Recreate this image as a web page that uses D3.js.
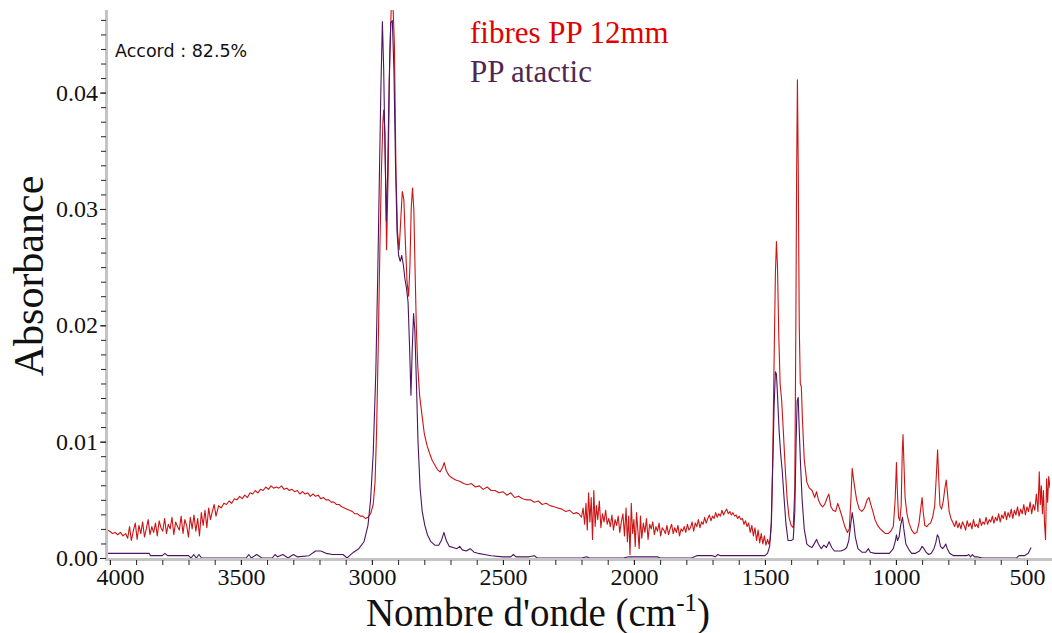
<!DOCTYPE html>
<html>
<head>
<meta charset="utf-8">
<script src="https://cdn.jsdelivr.net/npm/d3@7"></script>
<style>
  html, body { margin: 0; padding: 0; background: #ffffff; }
  svg { display: block; }
</style>
</head>
<body>
<svg id="chart" width="1052" height="633"></svg>
<script>
// ---------------- DATA ----------------
const xMajorTicks = [4000, 3500, 3000, 2500, 2000, 1500, 1000, 500];
const yMajorTicks = [0, 0.01, 0.02, 0.03, 0.04];
const seriesNames = ["fibres PP 12mm", "PP atactic"];
const matchText = "Accord : 82.5%";

// fibres PP 12mm : [wavenumber (cm-1), absorbance]
const fibres = [
[4011,0.0024],[4000,0.0023],[3990,0.0021],[3980,0.0022],[3970,0.0020],[3960,0.0022],[3950,0.0019],
[3940,0.0021],[3932,0.0017],[3925,0.0027],[3918,0.0015],[3910,0.0024],[3903,0.0030],[3896,0.0016],[3889,0.0028],
[3882,0.0021],[3875,0.0031],[3868,0.0018],[3861,0.0025],[3854,0.0033],[3847,0.0020],[3840,0.0027],[3833,0.0022],
[3826,0.0030],[3819,0.0019],[3812,0.0032],[3805,0.0026],[3798,0.0023],[3791,0.0034],[3784,0.0021],[3777,0.0029],
[3770,0.0025],[3763,0.0035],[3756,0.0020],[3749,0.0031],[3742,0.0027],[3735,0.0024],[3728,0.0036],[3721,0.0021],
[3714,0.0033],[3707,0.0028],[3700,0.0018],[3693,0.0035],[3686,0.0025],[3679,0.0037],[3672,0.0023],[3665,0.0034],
[3658,0.0019],[3651,0.0039],[3644,0.0028],[3637,0.0041],[3630,0.0026],[3623,0.0043],[3616,0.0033],[3609,0.0040],
[3602,0.0046],[3595,0.0036],
[3585,0.0045],[3575,0.0043],[3565,0.0047],[3555,0.0046],[3545,0.0049],[3535,0.0047],[3525,0.0051],[3515,0.0050],
[3505,0.0053],[3495,0.0051],[3485,0.0054],[3475,0.0052],[3465,0.0056],[3455,0.0055],[3445,0.0058],[3435,0.0056],
[3425,0.0059],[3415,0.0058],[3405,0.0061],[3395,0.0059],[3385,0.0062],[3375,0.0060],[3365,0.0061],[3355,0.0060],
[3345,0.0062],[3335,0.0059],[3325,0.0060],[3315,0.0058],[3305,0.0059],[3295,0.0057],[3285,0.0058],[3275,0.0055],
[3265,0.0057],[3255,0.0055],[3245,0.0056],[3235,0.0053],[3225,0.0055],[3215,0.0053],[3205,0.0054],[3195,0.0051],
[3185,0.0052],[3175,0.0050],[3165,0.0050],[3155,0.0048],[3145,0.0048],[3135,0.0046],[3125,0.0046],[3115,0.0044],
[3105,0.0043],[3095,0.0042],[3085,0.0041],[3075,0.0040],[3065,0.0038],[3055,0.0038],[3045,0.0036],[3035,0.0036],
[3025,0.0034],[3015,0.0035],[3005,0.0038],[2995,0.0046],[2988,0.0065],[2982,0.0110],[2976,0.0180],[2970,0.0260],
[2964,0.0330],[2958,0.0375],[2955,0.0385],[2950,0.0365],[2944,0.0265],[2938,0.0330],[2932,0.0430],[2926,0.0475],
[2920,0.0478],[2914,0.0440],[2908,0.0330],[2902,0.0280],[2896,0.0265],[2890,0.0290],[2884,0.0315],[2878,0.0308],
[2872,0.0270],[2866,0.0238],[2860,0.0225],[2855,0.0250],[2850,0.0300],[2845,0.0318],[2840,0.0300],[2835,0.0245],
[2830,0.0195],[2825,0.0165],[2818,0.0140],[2810,0.0125],[2800,0.0107],[2790,0.0097],[2780,0.0090],[2770,0.0084],
[2760,0.0080],[2750,0.0076],[2740,0.0074],[2730,0.0078],[2724,0.0082],[2716,0.0075],[2706,0.0071],[2695,0.0069],
[2680,0.0067],[2665,0.0066],[2650,0.0064],
[2635,0.0063],[2620,0.0064],[2605,0.0061],[2590,0.0062],[2575,0.0059],[2560,0.0061],[2545,0.0058],[2530,0.0058],
[2515,0.0056],[2500,0.0057],[2485,0.0054],[2470,0.0056],[2455,0.0052],[2440,0.0053],[2425,0.0051],[2410,0.0050],
[2395,0.0050],[2380,0.0048],[2365,0.0049],[2350,0.0046],[2335,0.0047],[2320,0.0045],[2305,0.0044],[2290,0.0043],
[2275,0.0042],[2260,0.0040],[2245,0.0041],[2230,0.0038],[2220,0.0039],
[2210,0.0038],[2200,0.0035],[2194,0.0043],[2188,0.0029],[2183,0.0047],[2178,0.0024],[2173,0.0056],[2168,0.0031],
[2163,0.0052],[2158,0.0016],[2153,0.0058],[2148,0.0027],[2143,0.0045],[2138,0.0033],[2132,0.0049],[2126,0.0026],
[2120,0.0038],[2114,0.0031],[2108,0.0041],[2102,0.0029],[2096,0.0034],[2090,0.0027],[2084,0.0037],[2078,0.0024],
[2072,0.0033],[2066,0.0028],[2060,0.0036],[2054,0.0022],[2048,0.0031],[2042,0.0038],[2036,0.0019],[2030,0.0043],
[2025,0.0014],[2020,0.0036],[2015,0.0003],[2010,0.0047],[2005,0.0021],[2000,0.0033],[1995,0.0010],[1990,0.0039],
[1985,0.0024],[1980,0.0008],[1975,0.0036],[1970,0.0017],[1964,0.0030],[1958,0.0022],[1952,0.0034],[1946,0.0016],
[1940,0.0029],[1934,0.0025],[1928,0.0031],[1922,0.0020],[1916,0.0027],[1910,0.0023],[1904,0.0030],[1898,0.0019],
[1892,0.0026],[1886,0.0024],[1880,0.0021],[1874,0.0028],[1868,0.0020],[1862,0.0025],[1856,0.0029],[1850,0.0021],
[1844,0.0026],[1838,0.0022],[1832,0.0028],[1826,0.0019],[1820,0.0025],[1814,0.0023],[1808,0.0027],[1802,0.0022],
[1796,0.0029],[1790,0.0024],[1784,0.0026],[1778,0.0031],[1772,0.0023],[1766,0.0030],[1760,0.0027],[1754,0.0033],
[1748,0.0026],[1742,0.0031],[1736,0.0029],[1730,0.0035],[1724,0.0030],[1718,0.0034],[1712,0.0037],[1706,0.0032],
[1700,0.0036],[1694,0.0034],[1688,0.0039],[1682,0.0035],[1676,0.0038],[1670,0.0036],[1664,0.0041],[1658,0.0037],
[1652,0.0040],[1646,0.0042],[1640,0.0038],[1634,0.0040],[1628,0.0037],[1622,0.0039],[1616,0.0036],[1610,0.0037],
[1604,0.0034],[1598,0.0036],[1592,0.0033],[1586,0.0034],[1580,0.0029],[1574,0.0032],[1568,0.0027],[1562,0.0030],
[1556,0.0022],[1550,0.0028],[1544,0.0019],[1538,0.0026],[1532,0.0015],[1526,0.0024],[1520,0.0013],[1514,0.0021],
[1508,0.0012],[1502,0.0019],[1496,0.0011],[1490,0.0016],[1485,0.0012],[1480,0.0016],
[1475,0.0030],[1470,0.0090],[1465,0.0170],[1460,0.0245],[1456,0.0272],[1452,0.0250],[1447,0.0190],[1442,0.0150],
[1436,0.0135],[1430,0.0110],[1422,0.0075],[1415,0.0050],[1408,0.0035],[1400,0.0028],[1392,0.0026],[1386,0.0060],
[1382,0.0200],[1379,0.0330],[1376,0.0411],[1373,0.0340],[1369,0.0200],[1365,0.0150],[1361,0.0147],[1357,0.0120],
[1350,0.0085],[1340,0.0065],[1330,0.0060],[1320,0.0058],[1310,0.0052],[1303,0.0057],[1296,0.0050],[1288,0.0046],
[1280,0.0044],[1272,0.0046],[1262,0.0052],[1256,0.0055],[1248,0.0044],[1240,0.0041],[1230,0.0040],[1222,0.0047],
[1216,0.0043],[1205,0.0035],[1195,0.0027],[1185,0.0022],[1178,0.0025],[1172,0.0050],[1167,0.0077],[1162,0.0068],
[1157,0.0060],[1150,0.0050],[1140,0.0042],[1130,0.0040],[1120,0.0043],[1110,0.0050],[1103,0.0052],[1096,0.0046],
[1088,0.0040],[1080,0.0033],[1070,0.0028],[1060,0.0025],[1050,0.0023],[1040,0.0021],[1030,0.0021],[1020,0.0023],
[1010,0.0027],[1003,0.0050],[998,0.0082],[995,0.0060],[990,0.0035],[985,0.0032],[980,0.0045],[976,0.0090],
[973,0.0106],[970,0.0085],[965,0.0052],[958,0.0038],[950,0.0030],[940,0.0024],[930,0.0021],[920,0.0022],
[912,0.0030],[904,0.0045],[900,0.0052],[896,0.0040],[890,0.0028],[882,0.0027],[875,0.0029],[868,0.0030],
[860,0.0035],[852,0.0045],[846,0.0070],[841,0.0093],[837,0.0070],[832,0.0045],[826,0.0042],[820,0.0048],
[813,0.0060],[808,0.0067],[803,0.0055],[797,0.0040],
[790,0.0034],[782,0.0030],[776,0.0027],[770,0.0032],[764,0.0026],[758,0.0030],[752,0.0025],[746,0.0031],
[740,0.0028],[734,0.0024],[728,0.0032],[722,0.0027],[716,0.0030],[710,0.0025],[704,0.0033],[698,0.0027],
[692,0.0029],[686,0.0026],[680,0.0034],[674,0.0028],[668,0.0031],[662,0.0029],[656,0.0035],[650,0.0029],
[644,0.0033],[638,0.0031],[632,0.0036],[626,0.0030],[620,0.0035],[614,0.0032],[608,0.0038],[602,0.0031],
[596,0.0037],[590,0.0034],[584,0.0040],[578,0.0033],[572,0.0039],[566,0.0035],[560,0.0042],[554,0.0034],
[548,0.0041],[542,0.0037],[536,0.0044],[530,0.0036],[524,0.0042],[518,0.0038],[512,0.0046],[506,0.0037],
[500,0.0044],[494,0.0040],[488,0.0048],[482,0.0038],[476,0.0046],[470,0.0041],[464,0.0055],[458,0.0040],
[453,0.0074],[449,0.0046],[445,0.0062],[441,0.0038],[437,0.0058],[433,0.0030],[429,0.0016],[425,0.0068],
[421,0.0048],[417,0.0070],[412,0.0060]
];

// PP atactic : [wavenumber (cm-1), absorbance]
const atactic = [
[4011,0.0004],[3850,0.0004],[3845,0.0002],[3800,0.0002],[3790,0.0004],[3780,0.0002],[3700,0.0002],[3690,0.0000],
[3680,0.0003],[3670,0.0000],[3660,0.0003],[3650,0.0000],[3480,0.0000],[3470,0.0003],[3460,0.0000],[3440,0.0003],
[3420,0.0000],[3380,0.0000],[3370,0.0003],[3360,0.0001],[3340,0.0003],[3320,0.0000],[3300,0.0003],[3285,0.0001],
[3240,0.0002],[3215,0.0006],[3195,0.0006],[3175,0.0004],[3150,0.0003],[3110,0.0003],[3095,0.0000],[3085,0.0002],
[3070,0.0005],[3050,0.0008],[3030,0.0014],[3015,0.0028],[3005,0.0050],[2995,0.0090],[2985,0.0160],[2978,0.0240],
[2972,0.0320],[2966,0.0400],[2960,0.0461],[2955,0.0420],[2950,0.0350],[2945,0.0290],[2940,0.0330],[2934,0.0410],
[2928,0.0460],[2922,0.0462],[2916,0.0420],[2910,0.0340],[2904,0.0280],[2898,0.0260],[2892,0.0255],[2886,0.0260],
[2880,0.0252],[2874,0.0240],[2868,0.0232],[2862,0.0220],[2856,0.0180],[2851,0.0140],[2846,0.0180],[2841,0.0210],
[2836,0.0195],[2830,0.0150],[2824,0.0100],[2816,0.0060],[2808,0.0040],[2798,0.0028],[2788,0.0020],[2775,0.0014],
[2760,0.0011],[2745,0.0011],[2735,0.0015],[2725,0.0022],[2716,0.0015],[2705,0.0010],[2690,0.0009],[2675,0.0008],
[2665,0.0010],[2655,0.0007],[2640,0.0006],[2625,0.0008],[2610,0.0005],[2595,0.0004],[2570,0.0003],[2545,0.0002],
[2500,0.0001],[2470,0.0001],[2460,0.0003],[2450,0.0001],[2400,0.0001],[2380,0.0002],[2370,0.0000],[2360,0.0000],
[2200,0.0000],[2180,0.0001],[2170,0.0000],[2040,0.0000],[2020,0.0001],[1910,0.0001],[1900,0.0000],[1780,0.0000],
[1760,0.0002],[1700,0.0002],[1690,0.0001],[1680,0.0003],[1670,0.0002],[1500,0.0002],[1490,0.0004],[1482,0.0010],
[1476,0.0030],[1470,0.0080],[1465,0.0130],[1460,0.0160],[1456,0.0158],[1452,0.0140],[1446,0.0110],[1440,0.0090],
[1434,0.0075],[1428,0.0055],[1420,0.0030],[1412,0.0015],[1400,0.0015],[1392,0.0016],[1386,0.0040],[1381,0.0100],
[1377,0.0135],[1373,0.0138],[1369,0.0110],[1364,0.0080],[1358,0.0050],[1350,0.0025],[1340,0.0012],[1330,0.0010],
[1320,0.0009],[1310,0.0013],[1303,0.0016],[1296,0.0012],[1285,0.0008],[1275,0.0011],[1265,0.0009],[1255,0.0014],
[1245,0.0009],[1235,0.0006],[1222,0.0006],[1210,0.0006],[1198,0.0007],[1188,0.0009],[1180,0.0015],[1172,0.0030],
[1167,0.0039],[1162,0.0032],[1155,0.0018],[1145,0.0008],[1130,0.0005],[1115,0.0005],[1105,0.0008],[1098,0.0005],
[1080,0.0004],[1050,0.0004],[1025,0.0004],[1010,0.0008],[1002,0.0015],[998,0.0020],[994,0.0015],[988,0.0018],
[982,0.0028],[975,0.0035],[970,0.0025],[962,0.0012],[950,0.0007],[940,0.0004],[925,0.0004],[910,0.0006],
[900,0.0010],[893,0.0008],[885,0.0005],[875,0.0003],[865,0.0004],[855,0.0008],[848,0.0013],[842,0.0020],
[837,0.0018],[830,0.0010],[822,0.0008],[815,0.0010],[810,0.0012],[804,0.0008],[795,0.0004],[780,0.0002],
[750,0.0002],[730,0.0002],[722,0.0003],[715,0.0001],[708,0.0003],[700,0.0001],[690,0.0001],[670,0.0000],
[600,0.0000],[540,0.0000],[530,0.0002],[510,0.0002],[495,0.0004],[484,0.0009]
];

// ---------------- CHART ----------------
const svg = d3.select("#chart");
const mLeft = 107, mRight = 1050, mTop = 10, mBottom = 558;
const serif = "'Liberation Serif', 'Times New Roman', serif";

const x = d3.scaleLinear().domain([4011, 412]).range([mLeft, mRight]);
const y = d3.scaleLinear().domain([0, 0.0471]).range([mBottom, mTop]);

svg.append("rect").attr("width", 1052).attr("height", 633).attr("fill", "#ffffff");

svg.append("defs").append("clipPath").attr("id", "plotclip")
  .append("rect").attr("x", mLeft).attr("y", mTop).attr("width", mRight - mLeft).attr("height", mBottom - mTop);

const line = d3.line().x(d => x(d[0])).y(d => y(d[1]));

const plot = svg.append("g").attr("clip-path", "url(#plotclip)");
plot.append("path").datum(fibres).attr("d", line)
  .attr("fill", "none").attr("stroke", "#cc1414").attr("stroke-width", 1.1).attr("stroke-linejoin", "round");
plot.append("path").datum(atactic).attr("d", line)
  .attr("fill", "none").attr("stroke", "#4d1460").attr("stroke-width", 1.1).attr("stroke-linejoin", "round");

// gray axis bars
svg.append("rect").attr("x", mLeft - 2).attr("y", mTop).attr("width", 3).attr("height", mBottom - mTop + 3).attr("fill", "#c4c4c4");
svg.append("rect").attr("x", mLeft - 2).attr("y", mBottom).attr("width", mRight - mLeft + 4).attr("height", 3).attr("fill", "#c4c4c4");

// Y axis
const yMinor = d3.range(0, 0.0471, 0.00125);
const yAxisMinor = d3.axisLeft(y).tickValues(yMinor).tickSize(5).tickFormat("");
const yAxisMajor = d3.axisLeft(y).tickValues(yMajorTicks).tickSize(6).tickPadding(2).tickFormat(d3.format(".2f"));
const gyMin = svg.append("g").attr("transform", `translate(${mLeft - 1},0)`).call(yAxisMinor);
const gy = svg.append("g").attr("transform", `translate(${mLeft - 1},0)`).call(yAxisMajor);
[gyMin, gy].forEach(g => { g.select(".domain").remove(); g.selectAll("line").attr("stroke", "#222"); });
gy.selectAll("text").attr("font-family", serif).attr("font-size", 24).attr("fill", "#111");

// X axis
const xMinor = d3.range(500, 4001, 100);
const xAxisMinor = d3.axisBottom(x).tickValues(xMinor).tickSize(5).tickFormat("");
const xAxisMajor = d3.axisBottom(x).tickValues(xMajorTicks).tickSize(5).tickPadding(3).tickFormat(d3.format("d"));
const gxMin = svg.append("g").attr("transform", `translate(0,${mBottom + 2})`).call(xAxisMinor);
const gx = svg.append("g").attr("transform", `translate(0,${mBottom + 2})`).call(xAxisMajor);
[gxMin, gx].forEach(g => { g.select(".domain").remove(); g.selectAll("line").attr("stroke", "#222"); });
gx.selectAll("text").attr("font-family", serif).attr("font-size", 24).attr("fill", "#111")
  .attr("dx", d => d === 4000 ? 10 : 0);

// Axis titles
svg.append("text")
  .attr("transform", "translate(43,276) rotate(-90)")
  .attr("text-anchor", "middle")
  .attr("font-family", serif)
  .attr("font-size", 42).attr("fill", "#111")
  .text("Absorbance");

const xt = svg.append("text")
  .attr("x", 538).attr("y", 626)
  .attr("text-anchor", "middle")
  .attr("font-family", serif)
  .attr("font-size", 39).attr("fill", "#111");
xt.append("tspan").text("Nombre d'onde (cm");
xt.append("tspan").attr("font-size", 25).attr("dy", -15).text("-1");
xt.append("tspan").attr("dy", 15).text(")");

// Legend
const legendColors = ["#e00000", "#4f2752"];
seriesNames.forEach((n, i) => {
  svg.append("text")
    .attr("x", 470).attr("y", 43 + i * 39)
    .attr("font-family", serif)
    .attr("font-size", 31).attr("fill", legendColors[i])
    .text(n);
});

// Match label
svg.append("text")
  .attr("x", 115).attr("y", 57)
  .attr("font-family", "'DejaVu Sans', Verdana, sans-serif")
  .attr("font-size", 17.5).attr("fill", "#111")
  .text(matchText);
</script>
</body>
</html>
